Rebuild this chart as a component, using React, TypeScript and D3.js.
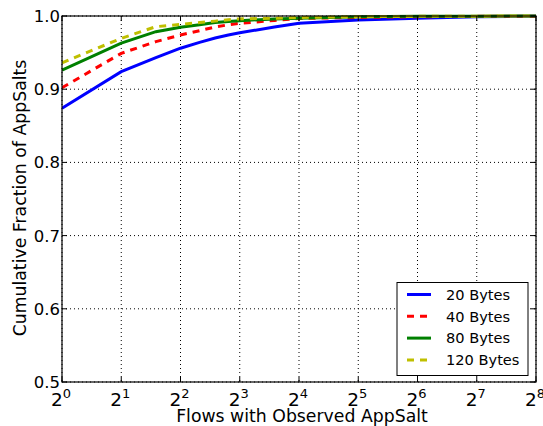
import React from "react";
import * as d3 from "d3";

const xs = [1, 2, 3, 4, 5, 6, 7, 8, 12, 16, 32, 64, 128, 256];
const blue20 = [0.874, 0.924, 0.943, 0.956, 0.964, 0.970, 0.974, 0.977, 0.985, 0.990, 0.9945, 0.997, 0.999, 0.9995];
const red40 = [0.902, 0.949, 0.965, 0.974, 0.980, 0.985, 0.988, 0.990, 0.994, 0.9966, 0.998, 0.999, 0.9995, 0.9998];
const green80 = [0.926, 0.963, 0.9786, 0.9846, 0.988, 0.991, 0.9925, 0.9936, 0.996, 0.997, 0.999, 0.9995, 0.9998, 1.0];
const yellow120 = [0.936, 0.9695, 0.9854, 0.9886, 0.991, 0.993, 0.995, 0.996, 0.997, 0.998, 0.999, 0.9995, 0.9998, 1.0];
const xTickExps = [0, 1, 2, 3, 4, 5, 6, 7, 8];
const yTicks = [0.5, 0.6, 0.7, 0.8, 0.9, 1.0];

const series = [
  { name: "20 Bytes", values: blue20, color: "#0000ff", dash: "" },
  { name: "40 Bytes", values: red40, color: "#ff0000", dash: "7,6" },
  { name: "80 Bytes", values: green80, color: "#008000", dash: "" },
  { name: "120 Bytes", values: yellow120, color: "#bfbf00", dash: "7,6" },
];

export default function App() {
  const W = 543, H = 426;
  const L = 62, R = 536, T = 16, B = 382;
  const x = d3.scaleLog().base(2).domain([1, 256]).range([L, R]);
  const y = d3.scaleLinear().domain([0.5, 1.0]).range([B, T]);
  const font = "DejaVu Sans, sans-serif";
  const line = d3.line<number>().x((_, i) => x(xs[i])).y((d) => y(d));
  return (
    <svg width={W} height={H} style={{ position: "absolute", left: 0, top: 0 }}>
      <defs>
        <clipPath id="clip">
          <rect x={L} y={T - 2} width={R - L} height={B - T + 2} />
        </clipPath>
      </defs>
      <rect x={0} y={0} width={W} height={H} fill="#fff" />
      {xTickExps.map((e) => (
        <line key={"gx" + e} x1={x(2 ** e)} x2={x(2 ** e)} y1={T} y2={B} stroke="#000" strokeWidth={1} strokeDasharray="1,3" />
      ))}
      {yTicks.map((t) => (
        <line key={"gy" + t} x1={L} x2={R} y1={y(t)} y2={y(t)} stroke="#000" strokeWidth={1} strokeDasharray="1,3" />
      ))}
      <g clipPath="url(#clip)">
        {series.map((s) => (
          <path key={s.name} d={line(s.values) || ""} fill="none" stroke={s.color} strokeWidth={3} strokeDasharray={s.dash} />
        ))}
      </g>
      <rect x={L} y={T} width={R - L} height={B - T} fill="none" stroke="#000" strokeWidth={1.2} />
      {xTickExps.map((e) => (
        <g key={"tx" + e}>
          <line x1={x(2 ** e)} x2={x(2 ** e)} y1={B} y2={B - 5} stroke="#000" />
          <line x1={x(2 ** e)} x2={x(2 ** e)} y1={T} y2={T + 5} stroke="#000" />
          <text x={x(2 ** e) - 1} y={406} fontFamily={font} fontSize={18.5} textAnchor="middle">
            <tspan>2</tspan>
            <tspan dy={-8} fontSize={13}>{e}</tspan>
          </text>
        </g>
      ))}
      {yTicks.map((t) => (
        <g key={"ty" + t}>
          <line x1={L} x2={L + 5} y1={y(t)} y2={y(t)} stroke="#000" />
          <line x1={R} x2={R - 5} y1={y(t)} y2={y(t)} stroke="#000" />
          <text x={L - 2} y={y(t) + 6} fontFamily={font} fontSize={16.5} textAnchor="end">{t.toFixed(1)}</text>
        </g>
      ))}
      <text x={302} y={422} fontFamily={font} fontSize={17.3} textAnchor="middle">Flows with Observed AppSalt</text>
      <text transform={`translate(26,198) rotate(-90)`} fontFamily={font} fontSize={17.3} textAnchor="middle">Cumulative Fraction of AppSalts</text>
      <g>
        <rect x={397} y={282.5} width={131} height={93} fill="#fff" stroke="#000" strokeWidth={1} />
        {series.map((s, i) => (
          <g key={"lg" + s.name}>
            <line x1={407} x2={431} y1={294.5 + i * 21.8} y2={294.5 + i * 21.8} stroke={s.color} strokeWidth={3} strokeDasharray={s.dash} />
            <text x={446} y={299.8 + i * 21.8} fontFamily={font} fontSize={14.6}>{s.name}</text>
          </g>
        ))}
      </g>
    </svg>
  );
}
